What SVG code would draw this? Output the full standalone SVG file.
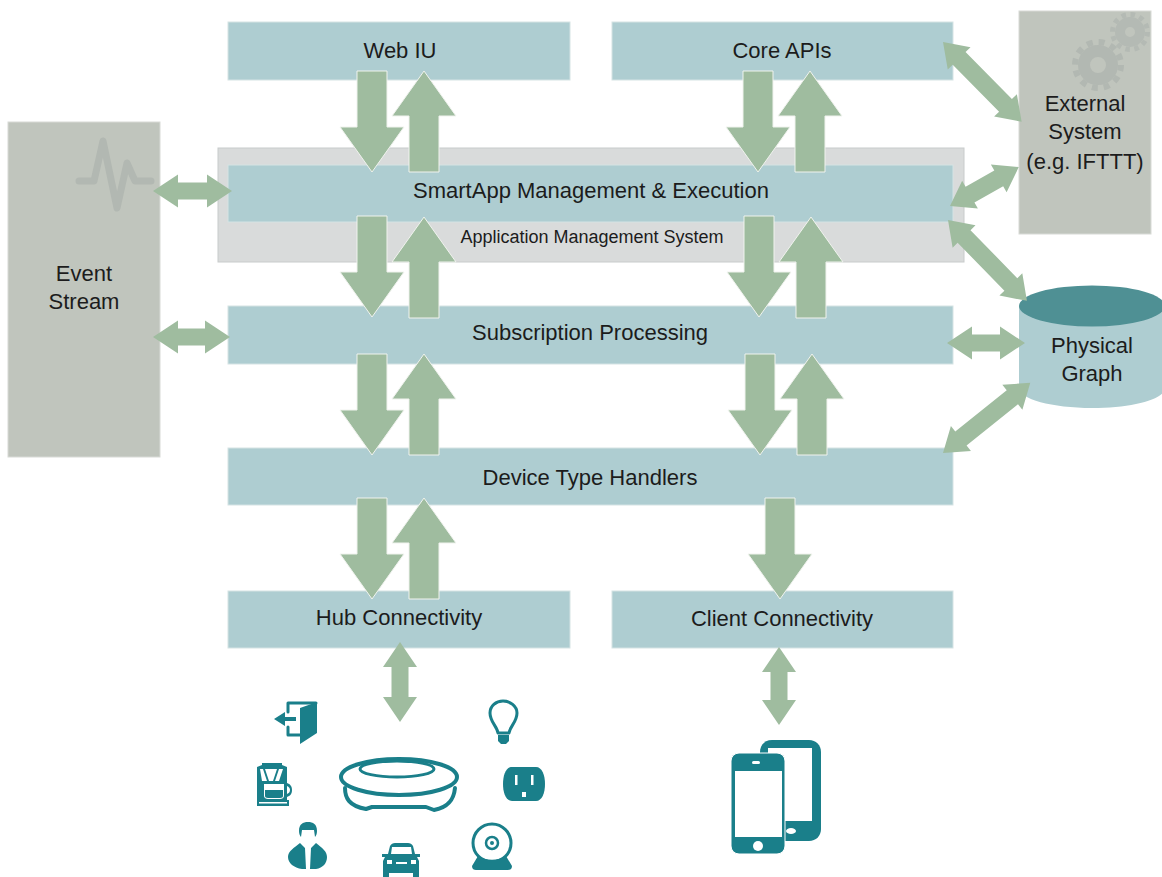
<svg xmlns="http://www.w3.org/2000/svg" width="1162" height="877" viewBox="0 0 1162 877">
<style>
text{font-family:"Liberation Sans",Arial,sans-serif;font-size:22px;fill:#1c1c1c;text-anchor:middle}
.box{fill:#aecdd1;stroke:#d5e3e4;stroke-width:1}
.side{fill:#c0c5bd;stroke:#d8dad6;stroke-width:1}
.arrow{fill:#9fbc9f;stroke:#f0f3ee;stroke-width:1}
.dbl{fill:#9fbc9f}
.teal{fill:#1a7f8a}
.line{fill:none;stroke:#1a7f8a;stroke-linecap:round;stroke-linejoin:round}
.hole{fill:#fff}
.mark{fill:none;stroke:#b2b8b2}
</style>
<defs>
<polygon id="down" class="arrow" points="-15,0 15,0 15,56 32,56 0,101 -32,56 -15,56"/>
<polygon id="up" class="arrow" points="-15,101 15,101 15,45 32,45 0,0 -32,45 -15,45"/>
</defs>
<rect width="1162" height="877" fill="#fff"/>
<g id="event-stream">
<rect class="side" x="8" y="122" width="152" height="335"/>
<path class="mark" stroke-width="7" stroke-linecap="round" stroke-linejoin="round" d="M79,181H94L103,141L117,208L127,163L135,181H151"/>
<text x="84" y="281">Event</text><text x="84" y="309">Stream</text>
</g>
<g id="external-system">
<rect class="side" x="1019" y="11" width="132" height="223"/>
<circle cx="1098" cy="65" r="14" fill="none" stroke="#b2b8b2" stroke-width="12"/>
<circle cx="1098" cy="65" r="23" fill="none" stroke="#b2b8b2" stroke-width="6" stroke-dasharray="6 6.040"/>
<circle cx="1130" cy="32" r="10" fill="none" stroke="#b4bab4" stroke-width="10"/>
<circle cx="1130" cy="32" r="17.500" fill="none" stroke="#b4bab4" stroke-width="5" stroke-dasharray="4.580 4.580"/>
<text x="1085" y="111">External</text><text x="1085" y="139">System</text><text x="1085" y="169">(e.g. IFTTT)</text>
</g>
<g id="physical-graph">
<path fill="#aecdd1" d="M1019,306V388C1019,399 1052,408 1092,408S1165,399 1165,388V306Z"/>
<ellipse cx="1092" cy="306" rx="73" ry="20.500" fill="#4f9094"/>
<text x="1092" y="353">Physical</text><text x="1092" y="381">Graph</text>
</g>
<g id="web-iu"><rect class="box" x="228" y="22" width="342" height="58"/><text x="400" y="58">Web IU</text></g>
<g id="core-apis"><rect class="box" x="612" y="22" width="341" height="58"/><text x="782" y="58">Core APIs</text></g>
<g id="application-management-system">
<rect x="218" y="148" width="746" height="114" fill="#d9dbdb" stroke="#c8cbcb"/>
<text x="592" y="243" style="font-size:18px">Application Management System</text>
</g>
<g id="smartapp"><rect class="box" x="228" y="165" width="725" height="57"/><text x="591" y="198">SmartApp Management &amp; Execution</text></g>
<g id="subscription"><rect class="box" x="228" y="306" width="725" height="58"/><text x="590" y="340">Subscription Processing</text></g>
<g id="device-handlers"><rect class="box" x="228" y="448" width="725" height="57"/><text x="590" y="485">Device Type Handlers</text></g>
<g id="hub-connectivity"><rect class="box" x="228" y="591" width="342" height="57"/><text x="399" y="625">Hub Connectivity</text></g>
<g id="client-connectivity"><rect class="box" x="612" y="591" width="341" height="57"/><text x="782" y="626">Client Connectivity</text></g>
<g id="connectors">
<use href="#down" x="372" y="71"/><use href="#up" x="424" y="71"/>
<use href="#down" x="758" y="71"/><use href="#up" x="810" y="71"/>
<use href="#down" x="372" y="216"/><use href="#up" x="424" y="217"/>
<use href="#down" x="759" y="216"/><use href="#up" x="811" y="217"/>
<use href="#down" x="372" y="354"/><use href="#up" x="424" y="354"/>
<use href="#down" x="760" y="354"/><use href="#up" x="812" y="354"/>
<use href="#down" x="372" y="498"/><use href="#up" x="424" y="498"/>
<use href="#down" x="780" y="498"/>
<polygon class="dbl" points="153,191 178,174.500 178,182.500 207,182.500 207,174.500 232,191 207,207.500 207,199.500 178,199.500 178,207.500"/>
<polygon class="dbl" points="153,337 178,320.500 178,328.500 205,328.500 205,320.500 230,337 205,353.500 205,345.500 178,345.500 178,353.500"/>
<polygon class="dbl" points="947,343 972,326.500 972,334.500 1000,334.500 1000,326.500 1025,343 1000,359.500 1000,351.500 972,351.500 972,359.500"/>
<polygon class="dbl" points="400,642 417,667 408.500,667 408.500,697 417,697 400,722 383,697 391.500,697 391.500,667 383,667"/>
<polygon class="dbl" points="779,647 796,672 787.500,672 787.500,700 796,700 779,725 762,700 770.500,700 770.500,672 762,672"/>
<polygon class="dbl" transform="translate(943,42) rotate(45.400)" points="0,0 23,-16 23,-9 89,-9 89,-16 112,0 89,16 89,9 23,9 23,16"/>
<polygon class="dbl" transform="translate(950,206) rotate(-29.500)" points="0,0 23,-16 23,-9 56,-9 56,-16 79,0 56,16 56,9 23,9 23,16"/>
<polygon class="dbl" transform="translate(948,220) rotate(45.700)" points="0,0 23,-16 23,-9 90,-9 90,-16 113,0 90,16 90,9 23,9 23,16"/>
<polygon class="dbl" transform="translate(943,453) rotate(-38.800)" points="0,0 23,-16 23,-9 89,-9 89,-16 112,0 89,16 89,9 23,9 23,16"/>
</g>
<g id="hub-icon">
<ellipse class="line" cx="399" cy="777" rx="58" ry="18" stroke-width="4"/>
<ellipse class="line" cx="397" cy="769" rx="37" ry="8" stroke-width="3"/>
<path class="line" stroke-width="4" d="M345,788C345,798 349,806 366,809L372,807H426L434,810C450,807 454,798 455,788"/>
</g>
<g id="door-icon">
<path class="line" stroke-width="3" d="M288,712V703H316M288,727V735H300"/>
<path class="teal" d="M300,708L317,702V733L300,744ZM274,719L285,712V717H296V721H285V726Z"/>
</g>
<g id="bulb-icon">
<path class="line" stroke-width="3" d="M498,733C497,726 490,722 490,713C490,706 496,701 503,701C510,701 517,706 517,713C517,722 510,726 509,733Z"/>
<path class="teal" d="M498,735H509V741L506,744H501L498,741Z"/>
</g>
<g id="outlet-icon">
<path class="teal" d="M512,767H536C542,767 545,775 545,784C545,793 542,801 536,801H512C506,801 503,793 503,784C503,775 506,767 512,767Z"/>
<path class="hole" d="M515,775H517.500V785H515ZM531,775H533.500V785H531ZM522,792H526V797H522Z"/>
</g>
<g id="coffee-icon">
<path class="teal" d="M257,767L262,765V763H282V765L287,767V783C290,784 292,786 292,790C292,794 290,796 287,797V800H289V806H257Z"/>
<path class="hole" d="M260,769H263L267,781H262ZM283,769L279,781H275L279,769ZM265,769H277L273,781H269ZM264,784H284V796C284,798 282,799 280,799H268C266,799 264,798 264,796ZM287,786C289,787 290,788 290,790C290,792 289,793 287,794ZM259,802H287V803.500H259Z"/>
<path class="teal" d="M265,790H283V796C283,797 282,798 280,798H268C266,798 265,797 265,796Z"/>
</g>
<g id="person-icon">
<path class="teal" d="M299,831C299,824 303,822 308,822C313,822 317,824 317,831C317,834 316,836 315,837L314,830H302L301,837C300,836 299,834 299,831Z"/>
<path class="teal" d="M300,843L305,848L306,869H302C294,868 288,863 288,857C288,851 294,848 300,843ZM316,843L311,848L310,869H316C323,868 327,863 327,857C327,851 322,848 316,843Z"/>
</g>
<g id="car-icon">
<path class="teal" d="M388,854L390,846C391,844 393,843 395,843H408C410,843 412,844 413,846L415,854H420V857H417L419,861V877H413V873H389V877H383V861L385,857H382V854Z"/>
<path class="hole" d="M392,847H411L412,854H391ZM387,860H392V864H387ZM411,860H416V864H411ZM396,862H407V864H396Z"/>
</g>
<g id="webcam-icon">
<circle class="line" cx="492" cy="843" r="19" stroke-width="3"/>
<circle class="line" cx="492" cy="843" r="6" stroke-width="2.500"/>
<circle class="teal" cx="492" cy="843" r="2"/>
<path class="teal" d="M478,856C486,861 498,861 506,856L512,866C512,869 510,870 508,870H476C474,870 472,869 472,866Z"/>
</g>
<g id="phones-icon">
<path class="teal" d="M772,740H809C816,740 821,745 821,752V829C821,836 816,841 809,841H772C765,841 760,836 760,829V752C760,745 765,740 772,740Z"/>
<rect class="hole" x="768" y="748" width="44" height="73"/>
<ellipse class="hole" cx="791" cy="831" rx="5" ry="3"/>
<rect class="teal" x="731" y="753" width="54" height="101" rx="8" stroke="#fff" stroke-width="1"/>
<rect class="hole" x="735" y="771" width="47" height="66"/>
<rect class="hole" x="752" y="761" width="8" height="3" rx="1.500"/>
<circle class="hole" cx="758" cy="846" r="5"/>
</g>
</svg>
